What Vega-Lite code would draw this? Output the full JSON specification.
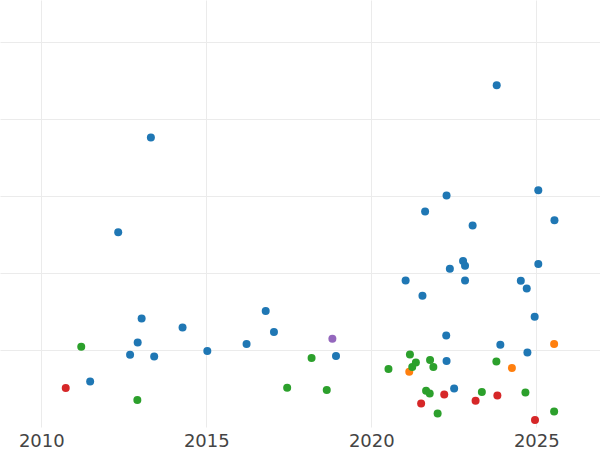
{
  "$schema": "https://vega.github.io/schema/vega-lite/v6.json",
  "width": 600,
  "height": 427,
  "padding": 0,
  "autosize": {"type": "pad"},
  "background": "white",
  "config": {
    "view": {"stroke": null},
    "font": "DejaVu Sans"
  },
  "data": {
    "values": [
      {"group": "A", "year": 2013.32, "value": 3.761},
      {"group": "A", "year": 2012.33, "value": 2.532},
      {"group": "A", "year": 2011.48, "value": 0.592},
      {"group": "A", "year": 2012.69, "value": 0.939},
      {"group": "A", "year": 2012.92, "value": 1.099},
      {"group": "A", "year": 2013.04, "value": 1.410},
      {"group": "A", "year": 2013.42, "value": 0.917},
      {"group": "A", "year": 2014.28, "value": 1.294},
      {"group": "A", "year": 2015.03, "value": 0.987},
      {"group": "A", "year": 2016.22, "value": 1.078},
      {"group": "A", "year": 2016.80, "value": 1.506},
      {"group": "A", "year": 2017.05, "value": 1.234},
      {"group": "A", "year": 2018.93, "value": 0.922},
      {"group": "A", "year": 2023.80, "value": 4.442},
      {"group": "A", "year": 2022.28, "value": 3.008},
      {"group": "A", "year": 2021.63, "value": 2.800},
      {"group": "A", "year": 2023.07, "value": 2.618},
      {"group": "A", "year": 2022.78, "value": 2.156},
      {"group": "A", "year": 2022.84, "value": 2.095},
      {"group": "A", "year": 2022.38, "value": 2.056},
      {"group": "A", "year": 2021.04, "value": 1.904},
      {"group": "A", "year": 2022.84, "value": 1.904},
      {"group": "A", "year": 2021.55, "value": 1.705},
      {"group": "A", "year": 2025.06, "value": 3.078},
      {"group": "A", "year": 2025.55, "value": 2.688},
      {"group": "A", "year": 2025.06, "value": 2.117},
      {"group": "A", "year": 2024.53, "value": 1.900},
      {"group": "A", "year": 2024.71, "value": 1.800},
      {"group": "A", "year": 2024.95, "value": 1.432},
      {"group": "A", "year": 2022.27, "value": 1.190},
      {"group": "A", "year": 2023.91, "value": 1.069},
      {"group": "A", "year": 2024.73, "value": 0.969},
      {"group": "A", "year": 2022.28, "value": 0.857},
      {"group": "A", "year": 2022.51, "value": 0.501},
      {"group": "B", "year": 2021.15, "value": 0.718},
      {"group": "B", "year": 2024.26, "value": 0.766},
      {"group": "B", "year": 2025.54, "value": 1.078},
      {"group": "C", "year": 2011.21, "value": 1.043},
      {"group": "C", "year": 2012.91, "value": 0.351},
      {"group": "C", "year": 2018.19, "value": 0.896},
      {"group": "C", "year": 2017.45, "value": 0.510},
      {"group": "C", "year": 2018.65, "value": 0.481},
      {"group": "C", "year": 2020.52, "value": 0.753},
      {"group": "C", "year": 2021.17, "value": 0.943},
      {"group": "C", "year": 2021.24, "value": 0.779},
      {"group": "C", "year": 2021.35, "value": 0.839},
      {"group": "C", "year": 2021.78, "value": 0.870},
      {"group": "C", "year": 2021.88, "value": 0.779},
      {"group": "C", "year": 2021.66, "value": 0.471},
      {"group": "C", "year": 2021.77, "value": 0.436},
      {"group": "C", "year": 2022.01, "value": 0.177},
      {"group": "C", "year": 2023.35, "value": 0.455},
      {"group": "C", "year": 2023.79, "value": 0.852},
      {"group": "C", "year": 2024.67, "value": 0.449},
      {"group": "C", "year": 2025.54, "value": 0.203},
      {"group": "D", "year": 2010.74, "value": 0.506},
      {"group": "D", "year": 2021.51, "value": 0.306},
      {"group": "D", "year": 2022.21, "value": 0.423},
      {"group": "D", "year": 2023.16, "value": 0.342},
      {"group": "D", "year": 2023.82, "value": 0.410},
      {"group": "D", "year": 2024.96, "value": 0.091},
      {"group": "E", "year": 2018.82, "value": 1.147}
    ]
  },
  "mark": {"type": "circle", "size": 64, "opacity": 1},
  "encoding": {
    "x": {
      "field": "year",
      "type": "quantitative",
      "scale": {"domain": [2008.748, 2026.930], "nice": false, "zero": false},
      "axis": {
        "title": null,
        "values": [2010, 2015, 2020, 2025],
        "format": "d",
        "domain": false,
        "ticks": false,
        "grid": true,
        "gridColor": "#ebebeb",
        "gridWidth": 1,
        "labelFontSize": 18,
        "labelColor": "#444444",
        "labelPadding": 5,
        "labelFont": "DejaVu Sans"
      }
    },
    "y": {
      "field": "value",
      "type": "quantitative",
      "scale": {"domain": [0, 5.549], "nice": false, "zero": false},
      "axis": {
        "title": null,
        "values": [1, 2, 3, 4, 5],
        "labels": false,
        "ticks": false,
        "domain": false,
        "grid": true,
        "gridColor": "#ebebeb",
        "gridWidth": 1
      }
    },
    "color": {
      "field": "group",
      "type": "nominal",
      "scale": {"domain": ["A", "B", "C", "D", "E"], "range": ["#1f77b4", "#ff7f0e", "#2ca02c", "#d62728", "#9467bd"]},
      "legend": null
    }
  }
}
